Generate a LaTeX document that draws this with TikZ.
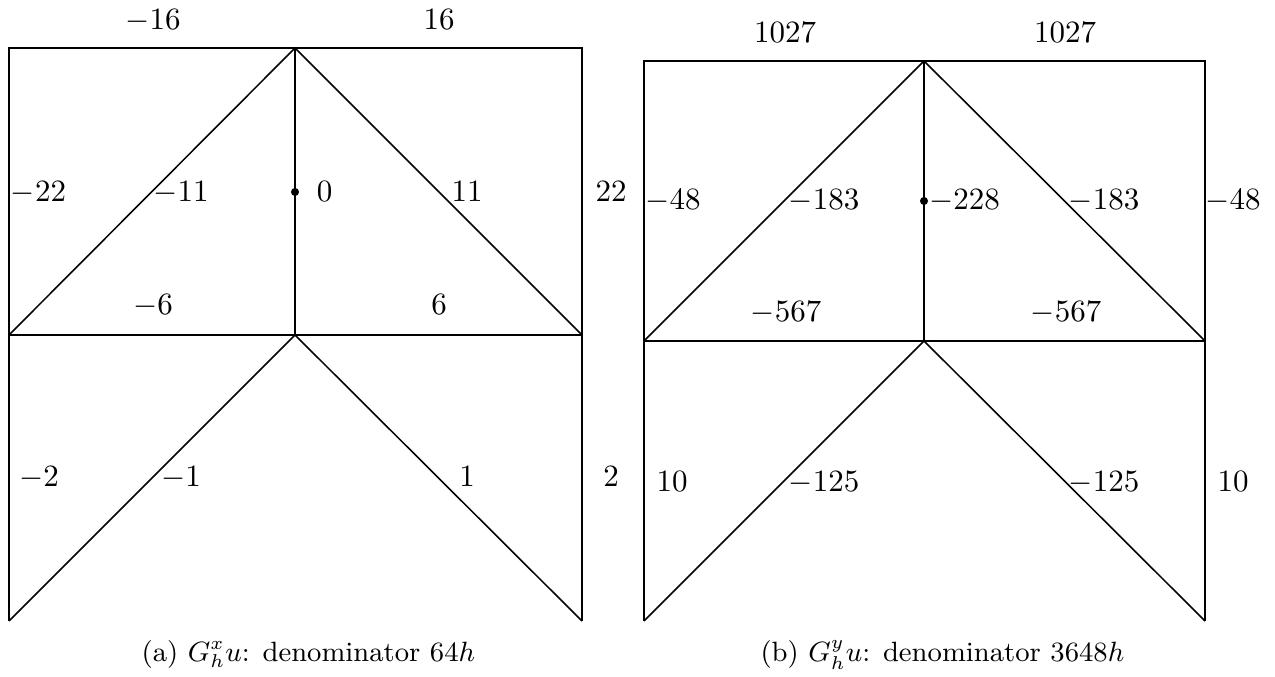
\documentclass[tikz,border=0pt]{standalone}
\usepackage{tikz}

\begin{document}
\begin{tikzpicture}[
  x=0.01133cm, y=-0.01133cm,
  edge/.style={line width=0.5pt,black},
  val/.style={anchor=base,inner sep=0pt},
  dot/.style={circle,fill=black,inner sep=0pt,minimum size=2.6pt},
  subcap/.style={anchor=base,inner sep=0pt,font=\small}
]
\useasboundingbox (0,0) rectangle (1275,677);
% (a) mesh for G_h^x u
\coordinate (a1) at (9,48);
\coordinate (a2) at (295,48);
\coordinate (a3) at (582,48);
\coordinate (a4) at (9,335);
\coordinate (a5) at (295,335);
\coordinate (a6) at (582,335);
\coordinate (a7) at (9,621);
\coordinate (a8) at (582,621);
\draw[edge] (a7) -- (a1) -- (a3) -- (a8);
\draw[edge] (a4) -- (a6);
\draw[edge] (a2) -- (a5);
\draw[edge] (a4) -- (a2) -- (a6);
\draw[edge] (a7) -- (a5) -- (a8);
\node[dot] (ac) at (295,192) {};
\node[val] (am16) at (153,30) {$-16$};
\node[val] (ap16) at (439,30) {$16$};
\node[val] (am22) at (38.5,202) {$-22$};
\node[val] (am11) at (181,202) {$-11$};
\node[val] (azero) at (324.5,202) {$0$};
\node[val] (ap11) at (467,202) {$11$};
\node[val] (ap22) at (611,202) {$22$};
\node[val] (am6) at (153,315) {$-6$};
\node[val] (ap6) at (439,315) {$6$};
\node[val] (am2) at (39,487) {$-2$};
\node[val] (am1) at (181,487) {$-1$};
\node[val] (ap1) at (467,487) {$1$};
\node[val] (ap2) at (611,487) {$2$};
\node[subcap] (acap) at (308.4,661.7) {(a)~$G_h^x u$: denominator $64h$};
% (b) mesh for G_h^y u
\coordinate (b1) at (644,61);
\coordinate (b2) at (924,61);
\coordinate (b3) at (1205,61);
\coordinate (b4) at (644,341);
\coordinate (b5) at (924,341);
\coordinate (b6) at (1205,341);
\coordinate (b7) at (644,621);
\coordinate (b8) at (1205,621);
\draw[edge] (b7) -- (b1) -- (b3) -- (b8);
\draw[edge] (b4) -- (b6);
\draw[edge] (b2) -- (b5);
\draw[edge] (b4) -- (b2) -- (b6);
\draw[edge] (b7) -- (b5) -- (b8);
\node[dot] (bc) at (924,201) {};
\node[val] (btopl) at (785,43) {$1027$};
\node[val] (btopr) at (1065,43) {$1027$};
\node[val] (bm48l) at (673,210) {$-48$};
\node[val] (bm183l) at (824,210) {$-183$};
\node[val] (bm228) at (964.5,210) {$-228$};
\node[val] (bm183r) at (1104,210) {$-183$};
\node[val] (bm48r) at (1233,210) {$-48$};
\node[val] (bm567l) at (786,322) {$-567$};
\node[val] (bm567r) at (1066,322) {$-567$};
\node[val] (btenl) at (672,492) {$10$};
\node[val] (bm125l) at (824,492) {$-125$};
\node[val] (bm125r) at (1104,492) {$-125$};
\node[val] (btenr) at (1233,492) {$10$};
\node[subcap] (bcap) at (942.4,661.7) {(b)~$G_h^y u$: denominator $3648h$};
\end{tikzpicture}
\end{document}
